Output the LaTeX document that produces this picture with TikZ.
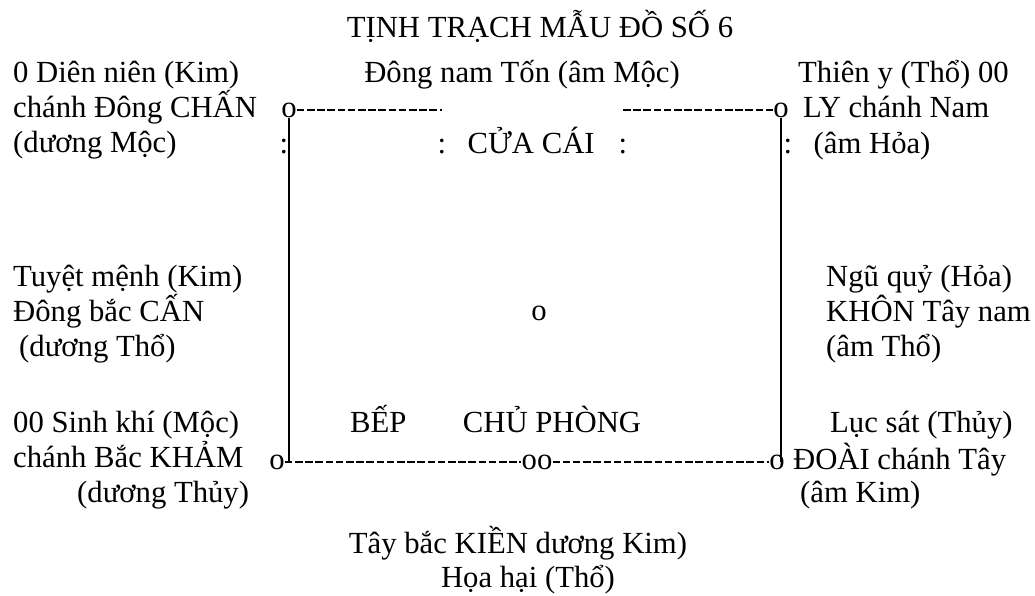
\documentclass[tikz,border=0pt]{standalone}
\usepackage{fontspec}
\setmainfont{Liberation Serif}
\usetikzlibrary{positioning}

\begin{document}
\begin{tikzpicture}[
  x=1pt, y=-1pt,
  node distance=0pt,
  txt/.style={
    inner sep=0pt,
    anchor=base west,
    font=\fontsize{30.7}{35}\selectfont
  },
  ln/.style={txt, text height=23pt, text depth=12pt},
  glyph/.style={txt, anchor=base},
  wall/.style={line width=1.6pt},
  fence/.style={line width=1.4pt, dash pattern=on 7.5pt off 2.7pt}
]
\useasboundingbox (0,0) rectangle (1035,595);

\node[glyph] (title) at (540,37) {TỊNH TRẠCH MẪU ĐỒ SỐ 6};
\node[glyph] (dongnam) at (522,82) {Đông nam Tốn (âm Mộc)};

% left column
\node[ln] (dien) at (13,82) {0 Diên niên (Kim)};
\node[ln, below right=0pt and 0pt of dien.south west] (chanhdong) {chánh Đông CHẤN};
\node[ln, below right=0pt and 0pt of chanhdong.south west] (duongmoc) {(dương Mộc)};
\node[ln] (tuyet) at (13,286) {Tuyệt mệnh (Kim)};
\node[ln, below right=0pt and 0pt of tuyet.south west] (dongbac) {Đông bắc CẤN};
\node[ln, below right=0pt and 6pt of dongbac.south west] (duongtho) {(dương Thổ)};
\node[ln] (sinhkhi) at (13,432) {00 Sinh khí (Mộc)};
\node[ln, below right=0pt and 0pt of sinhkhi.south west] (chanhbac) {chánh Bắc KHẢM};
\node[ln, below right=0pt and 64pt of chanhbac.south west] (duongthuy) {(dương Thủy)};

% corners and marks
\node[glyph] (oNW) at (289,117) {o};
\node[glyph] (oNE) at (781,117) {o};
\node[glyph] (oSW) at (277,469) {o};
\node[glyph] (oSE) at (777,469) {o};
\node[glyph] (oS) at (537,469) {oo};
\node[glyph] (oC) at (539,320) {o};
\node[glyph] (c1) at (284,153) {:};
\node[glyph] (c2) at (442,153) {:};
\node[glyph] (c3) at (623,153) {:};
\node[glyph] (c4) at (788,153) {:};

% inside
\node[txt, base right=21pt of c2] (cuacai) {CỬA CÁI};
\node[txt] (bep) at (350,432) {BẾP};
\node[txt, base right=56pt of bep] (chuphong) {CHỦ PHÒNG};

% right column
\node[ln] (thieny) at (798,82) {Thiên y (Thổ) 00};
\node[txt, base right=14pt of oNE] (ly) {LY chánh Nam};
\node[txt, base right=21pt of c4] (amhoa) {(âm Hỏa)};
\node[ln] (nguquy) at (826,286) {Ngũ quỷ (Hỏa)};
\node[ln, below right=0pt and 0pt of nguquy.south west] (khon) {KHÔN Tây nam};
\node[ln, below right=0pt and 0pt of khon.south west] (amtho) {(âm Thổ)};
\node[txt] (lucsat) at (830,432) {Lục sát (Thủy)};
\node[txt, base right=8pt of oSE] (doai) {ĐOÀI chánh Tây};
\node[txt] (amkim) at (800,502) {(âm Kim)};

% bottom
\node[glyph] (taybac) at (518,553) {Tây bắc KIỀN dương Kim)};
\node[glyph] (hoahai) at (528,587) {Họa hại (Thổ)};

% walls and fences
\draw[wall] (oNW.south) -- (oNW.south |- oSW.center);
\draw[wall] (oNE.south) -- (oNE.south |- oSE.center);
\draw[fence] ([yshift=7pt]oNW.base east) -- ([yshift=7pt]oNW.base east -| c2);
\draw[fence] ([yshift=7pt]oNE.base west -| c3) -- ([yshift=7pt]oNE.base west);
\draw[fence] ([yshift=7pt]oSW.base east) -- ([yshift=7pt]oS.base west);
\draw[fence] ([yshift=7pt]oS.base east) -- ([yshift=7pt]oSE.base west);

\end{tikzpicture}
\end{document}
